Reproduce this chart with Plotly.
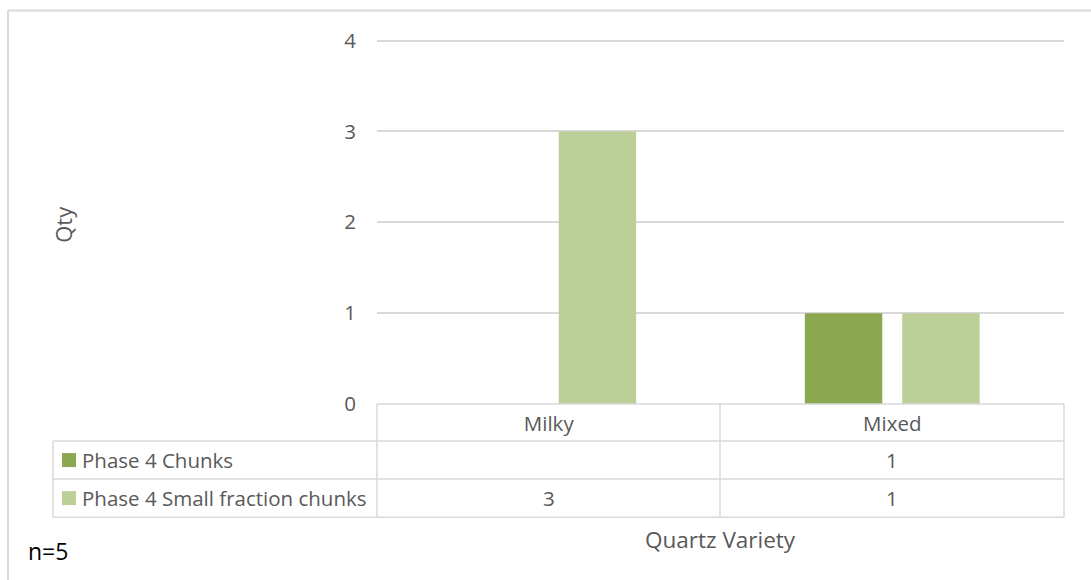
import plotly.graph_objects as go

categories = ["Milky", "Mixed"]
series_names = ["Phase 4 Chunks", "Phase 4 Small fraction chunks"]
chunks = [None, 1]
small_fraction = [3, 1]
y_ticks = [0, 1, 2, 3, 4]
x_title = "Quartz Variety"
y_title = "Qty"
note = "n=5"

colors = ["#8BA74F", "#BBCF97"]
grid = "#D9D9D9"
txt = "#595959"
FONT = "Open Sans"
FS = 20.5

W, H = 1091, 580
YMAX = 4.05
PL, PR = 377, 1064          # plot area pixel x
PB = 404                    # pixel y of value 0
PY4 = 41                    # pixel y of value 4
PT = PB - (PB - PY4) * YMAX / 4.0

def px(x):
    return (x - PL) / (PR - PL)

def py(y):
    return (PB - y) / (PB - PT)

fig = go.Figure()
for name, vals, c in zip(series_names, [chunks, small_fraction], colors):
    fig.add_trace(go.Bar(x=categories, y=vals, name=name, marker_color=c,
                         marker_line_width=0, showlegend=False, hoverinfo="skip"))

shapes = []
line = dict(color=grid, width=1.5)
shapes.append(dict(type="line", xref="paper", yref="paper", x0=px(PL), x1=px(PR), y0=py(PB), y1=py(PB), line=line))
row_lines = [441, 479, 517]
for yy in row_lines:
    shapes.append(dict(type="line", xref="paper", yref="paper", x0=px(53), x1=px(PR), y0=py(yy), y1=py(yy), line=line))
for xx in [PL, 720, PR]:
    shapes.append(dict(type="line", xref="paper", yref="paper", x0=px(xx), x1=px(xx), y0=py(PB), y1=py(517), line=line))
shapes.append(dict(type="line", xref="paper", yref="paper", x0=px(53), x1=px(53), y0=py(441), y1=py(517), line=line))
# outer chart border
shapes.append(dict(type="line", xref="paper", yref="paper", x0=px(8), x1=px(8), y0=py(11), y1=py(H + 5), line=dict(color=grid, width=2)))
shapes.append(dict(type="line", xref="paper", yref="paper", x0=px(8), x1=px(W + 5), y0=py(11), y1=py(11), line=dict(color=grid, width=2)))

annotations = []
row_centers = [460, 498]
col_centers = [(PL + 720) / 2, (720 + PR) / 2]
for r, (name, vals, c) in enumerate(zip(series_names, [chunks, small_fraction], colors)):
    yc = row_centers[r]
    shapes.append(dict(type="rect", xref="paper", yref="paper", x0=px(62), x1=px(76),
                       y0=py(yc - 7), y1=py(yc + 7), fillcolor=c, line=dict(width=0)))
    annotations.append(dict(text=name, xref="paper", yref="paper", x=px(80), y=py(yc),
                            xanchor="left", yanchor="middle", showarrow=False,
                            font=dict(family=FONT, size=FS, color=txt)))
    for ci, v in enumerate(vals):
        if v is not None:
            annotations.append(dict(text=str(v), xref="paper", yref="paper", x=px(col_centers[ci]), y=py(yc),
                                    xanchor="center", yanchor="middle", showarrow=False,
                                    font=dict(family=FONT, size=FS, color=txt)))
annotations.append(dict(text=y_title, xref="paper", yref="paper", x=px(63), y=py(225), textangle=-90,
                        xanchor="center", yanchor="middle", showarrow=False,
                        font=dict(family=FONT, size=22, color=txt)))
annotations.append(dict(text=x_title, xref="paper", yref="paper", x=px(720), y=py(539),
                        xanchor="center", yanchor="middle", showarrow=False,
                        font=dict(family=FONT, size=22.5, color=txt)))
annotations.append(dict(text=note, xref="paper", yref="paper", x=px(26), y=py(551),
                        xanchor="left", yanchor="middle", showarrow=False,
                        font=dict(family=FONT, size=23, color="#000000")))

fig.update_layout(
    width=W, height=H, autosize=False,
    margin=dict(l=PL, r=W - PR, t=PT, b=H - PB, pad=0),
    paper_bgcolor="white", plot_bgcolor="white",
    barmode="group", bargap=0.433, bargroupgap=0.205,
    font=dict(family=FONT, size=FS, color=txt),
    shapes=shapes, annotations=annotations,
    xaxis=dict(type="category", showgrid=False, showline=False, zeroline=False,
               ticks="", tickfont=dict(family=FONT, size=FS, color=txt), ticklabelstandoff=5),
    yaxis=dict(range=[0, YMAX], tickvals=y_ticks, showgrid=True, gridcolor=grid, gridwidth=1.5,
               zeroline=False, showline=False, ticks="",
               tickfont=dict(family=FONT, size=FS, color=txt), ticklabelstandoff=20),
)

fig.write_html("out.html", config={"displayModeBar": False},
               post_script="document.body.style.margin='0px';document.body.style.overflow='hidden';")
